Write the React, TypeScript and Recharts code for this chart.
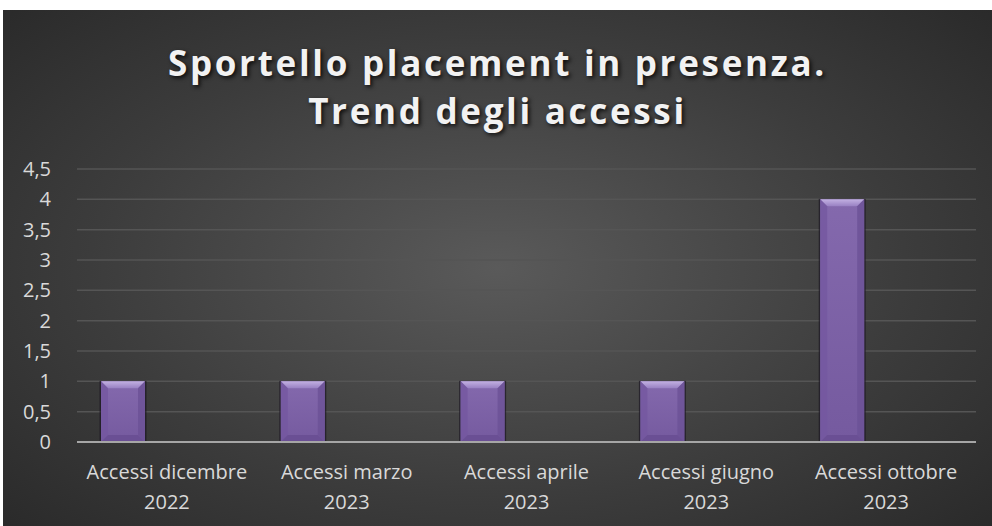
import React from "react";
import { BarChart, Bar, XAxis, YAxis, CartesianGrid } from "recharts";

const categories = [
  "Accessi dicembre 2022",
  "Accessi marzo 2023",
  "Accessi aprile 2023",
  "Accessi giugno 2023",
  "Accessi ottobre 2023",
];
const accessi = [1, 1, 1, 1, 4];
const yTicks = [0, 0.5, 1, 1.5, 2, 2.5, 3, 3.5, 4, 4.5];

const data = categories.map((name, i) => ({ name, accessi: accessi[i], s2: null, s3: null }));

const FONT = "'Open Sans', 'DejaVu Sans', sans-serif";

function BevelBar(props: any) {
  const { x, y, width, height } = props;
  if (!height || height <= 0) return null;
  const b = Math.min(7, width / 4, height / 4);
  return (
    <g>
      <rect x={x - 1.5} y={y - 0.5} width={width + 3} height={height + 1} fill="#1c1824" opacity={0.7} />
      <rect x={x} y={y} width={width} height={height} fill="url(#barBody)" />
      <polygon points={`${x},${y} ${x + width},${y} ${x + width - b},${y + b} ${x + b},${y + b}`} fill="url(#barTop)" />
      <polygon points={`${x},${y} ${x + b},${y + b} ${x + b},${y + height - b} ${x},${y + height}`} fill="#7458a0" opacity={0.8} />
      <polygon points={`${x + width},${y} ${x + width - b},${y + b} ${x + width - b},${y + height - b} ${x + width},${y + height}`} fill="#6c5196" opacity={0.8} />
      <polygon points={`${x},${y + height} ${x + b},${y + height - b} ${x + width - b},${y + height - b} ${x + width},${y + height}`} fill="#6a4f94" />
    </g>
  );
}

function CategoryTick(props: any) {
  const { x, y, payload } = props;
  const label: string = payload.value;
  const cut = label.lastIndexOf(" ");
  const lines = [label.slice(0, cut), label.slice(cut + 1)];
  return (
    <g transform={`translate(${x},${y})`}>
      {lines.map((l, i) => (
        <text key={i} x={0} y={24 + i * 30} textAnchor="middle" dominantBaseline="middle" fill="#d9d9d9" fontSize={20} fontFamily={FONT}>
          {l}
        </text>
      ))}
    </g>
  );
}

export default function App() {
  return (
    <div
      style={{
        position: "absolute",
        left: 3,
        top: 10,
        width: 989,
        height: 516,
        background: "radial-gradient(ellipse 75% 80% at 50% 50%, #5a5a5a 0%, #3c3c3c 55%, #262626 100%)",
      }}
    >
      <div
        style={{
          position: "absolute",
          left: 0,
          right: 0,
          top: 29,
          textAlign: "center",
          color: "#f2f2f2",
          fontFamily: FONT,
          fontWeight: 700,
          fontSize: 35,
          letterSpacing: 2.7,
          lineHeight: "48px",
          textShadow: "2px 2px 4px rgba(0,0,0,0.8)",
        }}
      >
        Sportello placement in presenza.
        <br />
        Trend degli accessi
      </div>
      <BarChart
        width={989}
        height={516}
        data={data}
        margin={{ top: 159, right: 16, bottom: 0, left: 0 }}
        barCategoryGap={24}
        barGap={0}
      >
        <defs>
          <linearGradient id="barBody" x1="0" y1="0" x2="0" y2="1">
            <stop offset="0%" stopColor="#8469ad" />
            <stop offset="100%" stopColor="#755a9f" />
          </linearGradient>
          <linearGradient id="barTop" x1="0" y1="0" x2="0" y2="1">
            <stop offset="0%" stopColor="#c2b0e2" />
            <stop offset="100%" stopColor="#9880c2" />
          </linearGradient>
        </defs>
        <CartesianGrid vertical={false} stroke="#555555" strokeWidth={1.5} />
        <XAxis
          dataKey="name"
          height={84}
          tick={<CategoryTick />}
          tickLine={false}
          axisLine={{ stroke: "#a6a6a6", strokeWidth: 2 }}
          interval={0}
        />
        <YAxis
          width={74}
          domain={[0, 4.5]}
          ticks={yTicks}
          axisLine={false}
          tickLine={false}
          tickMargin={20}
          tickFormatter={(v) => String(v).replace(".", ",")}
          tick={{ fill: "#d9d9d9", fontSize: 20, fontFamily: FONT }}
        />
        <Bar dataKey="accessi" shape={<BevelBar />} isAnimationActive={false} />
        <Bar dataKey="s2" isAnimationActive={false} />
        <Bar dataKey="s3" isAnimationActive={false} />
      </BarChart>
    </div>
  );
}
